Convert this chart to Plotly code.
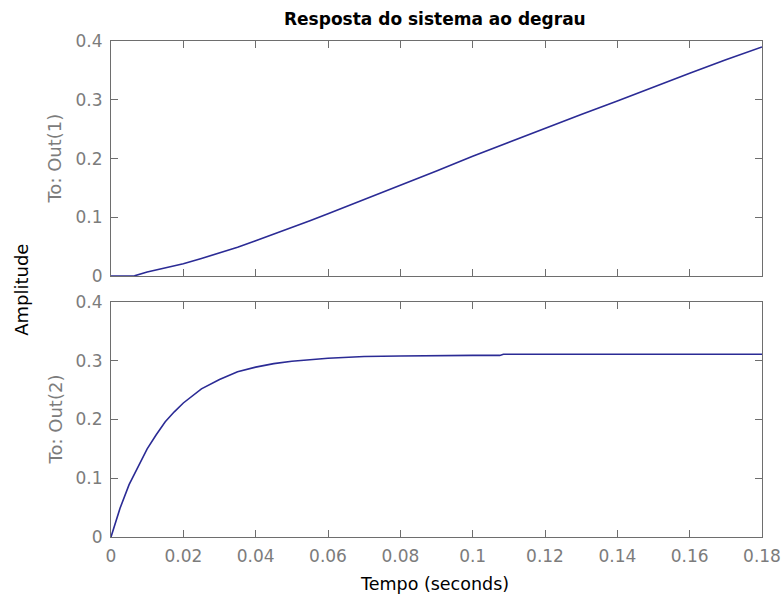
import plotly.graph_objects as go

# ---- data ----
t_out1 = [0, 0.005, 0.0065, 0.01, 0.015, 0.02, 0.025, 0.03, 0.035, 0.04, 0.045,
          0.05, 0.055, 0.06, 0.07, 0.08, 0.09, 0.10, 0.11, 0.12, 0.13, 0.14,
          0.15, 0.16, 0.17, 0.18]
out1 = [0, 0.0, 0.0005, 0.007, 0.014, 0.021, 0.030, 0.039, 0.049, 0.060, 0.071,
        0.083, 0.094, 0.106, 0.130, 0.155, 0.179, 0.204, 0.228, 0.252, 0.275,
        0.298, 0.322, 0.345, 0.368, 0.390]

t_out2 = [0, 0.0025, 0.005, 0.0075, 0.01, 0.0125, 0.015, 0.0175, 0.02, 0.025,
          0.03, 0.035, 0.04, 0.045, 0.05, 0.06, 0.07, 0.08, 0.09, 0.10, 0.1075,
          0.1085, 0.12, 0.14, 0.16, 0.18]
out2 = [0, 0.049, 0.089, 0.120, 0.150, 0.174, 0.196, 0.213, 0.228, 0.252,
        0.268, 0.281, 0.289, 0.295, 0.299, 0.304, 0.307, 0.308, 0.309, 0.309,
        0.309, 0.311, 0.311, 0.311, 0.311, 0.311]

x_tickvals = [0, 0.02, 0.04, 0.06, 0.08, 0.10, 0.12, 0.14, 0.16, 0.18]
x_ticktext = ["0", "0.02", "0.04", "0.06", "0.08", "0.1", "0.12", "0.14", "0.16", "0.18"]
y_tickvals = [0, 0.1, 0.2, 0.3, 0.4]
y_ticktext = ["0", "0.1", "0.2", "0.3", "0.4"]

title_text = "Resposta do sistema ao degrau"
xlabel_text = "Tempo (seconds)"
ylabel_text = "Amplitude"
row_labels = ["To: Out(1)", "To: Out(2)"]

# ---- styles ----
LINE_COLOR = "#2b2b95"
AXIS_COLOR = "#6e6e6e"
TICK_COLOR = "#6e6e6e"
TICK_FONT_COLOR = "#7c7c7c"
FONT = "DejaVu Sans"

fig = go.Figure()
fig.add_trace(go.Scatter(x=t_out1, y=out1, mode="lines",
                         line=dict(color=LINE_COLOR, width=1.6),
                         xaxis="x", yaxis="y", showlegend=False))
fig.add_trace(go.Scatter(x=t_out2, y=out2, mode="lines",
                         line=dict(color=LINE_COLOR, width=1.6),
                         xaxis="x2", yaxis="y2", showlegend=False))

common_x = dict(range=[0, 0.18], tickmode="array", tickvals=x_tickvals,
                ticktext=x_ticktext, ticks="inside", ticklen=7, tickwidth=1,
                tickcolor=TICK_COLOR, showline=True, linecolor=AXIS_COLOR,
                linewidth=1, mirror="ticks", showgrid=False, zeroline=False,
                layer="above traces",
                tickfont=dict(family=FONT, size=17, color=TICK_FONT_COLOR),
                automargin=False, fixedrange=True)
common_y = dict(range=[0, 0.4], tickmode="array", tickvals=y_tickvals,
                ticktext=y_ticktext, ticks="inside", ticklen=7, tickwidth=1,
                tickcolor=TICK_COLOR, showline=True, linecolor=AXIS_COLOR,
                linewidth=1, mirror="ticks", showgrid=False, zeroline=False,
                layer="above traces",
                tickfont=dict(family=FONT, size=17, color=TICK_FONT_COLOR),
                ticklabelstandoff=4, automargin=False, fixedrange=True)

fig.update_layout(
    template="none",
    width=784, height=600,
    margin=dict(l=111, r=22, t=41, b=63),
    paper_bgcolor="white", plot_bgcolor="white",
    xaxis=dict(domain=[0, 1], anchor="y", showticklabels=False, **common_x),
    yaxis=dict(domain=[0.526, 1], anchor="x", **common_y),
    xaxis2=dict(domain=[0, 1], anchor="y2", ticklabelstandoff=4, **common_x),
    yaxis2=dict(domain=[0, 0.474], anchor="x2", **common_y),
    annotations=[
        dict(text="<b>" + title_text + "</b>", xref="paper", yref="paper",
             x=0.497, y=1.044, showarrow=False, xanchor="center", yanchor="middle",
             font=dict(family=FONT, size=17, color="black")),
        dict(text=row_labels[0], xref="paper", yref="paper", x=-0.086, y=0.763,
             textangle=-90, showarrow=False, xanchor="center", yanchor="middle",
             font=dict(family=FONT, size=18, color=TICK_FONT_COLOR)),
        dict(text=row_labels[1], xref="paper", yref="paper", x=-0.086, y=0.237,
             textangle=-90, showarrow=False, xanchor="center", yanchor="middle",
             font=dict(family=FONT, size=18, color=TICK_FONT_COLOR)),
        dict(text=ylabel_text, xref="paper", yref="paper", x=-0.137, y=0.498,
             textangle=-90, showarrow=False, xanchor="center", yanchor="middle",
             font=dict(family=FONT, size=18, color="black")),
        dict(text=xlabel_text, xref="paper", yref="paper", x=0.497, y=-0.094,
             showarrow=False, xanchor="center", yanchor="middle",
             font=dict(family=FONT, size=17.5, color="black")),
    ],
)

fig.write_html("out.html", config={"displayModeBar": False},
               post_script="document.body.style.margin='0';document.body.style.overflow='hidden';")
